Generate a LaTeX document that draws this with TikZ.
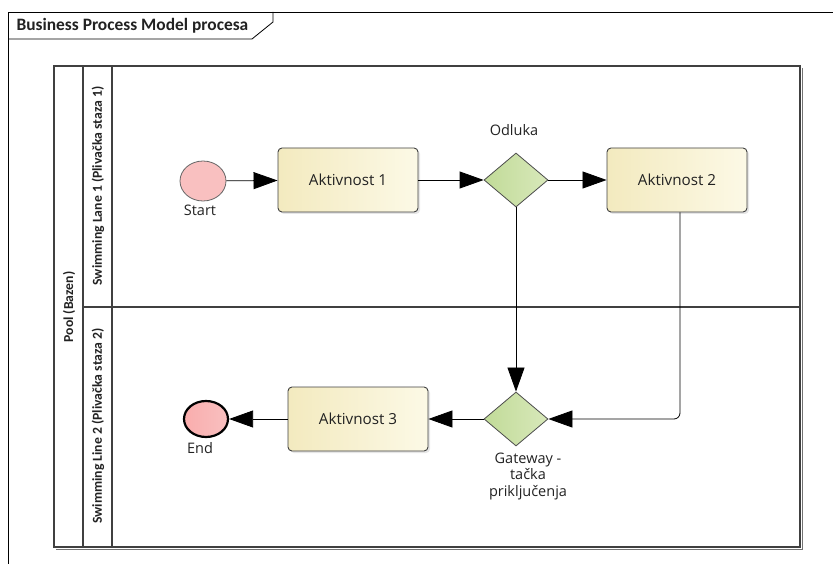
\documentclass[tikz,border=0pt]{standalone}
\usepackage{fontspec}
\setmainfont{Carlito}
\newfontfamily\shapefont{Open Sans}
\usetikzlibrary{shapes.geometric,arrows.meta,shadows}
\definecolor{actL}{HTML}{F3EABF}
\definecolor{actR}{HTML}{FCF9E6}
\definecolor{gwL}{HTML}{C1DB98}
\definecolor{gwR}{HTML}{D8E8BA}
\definecolor{evFill}{HTML}{F9C0C0}
\definecolor{txt}{HTML}{222222}
\newcommand\acttext[1]{\raisebox{-4pt}{#1}}
\tikzset{
  activity/.style={rectangle, rounded corners=4pt, draw=black!75, line width=0.9pt,
    left color=actL, right color=actR, minimum width=140pt, minimum height=64pt,
    font=\shapefont\fontsize{15.2}{17}\selectfont, text=txt,
    drop shadow={shadow xshift=2pt, shadow yshift=-2pt, opacity=0.2}},
  gateway/.style={diamond, draw=black!70, line width=0.8pt, left color=gwL, right color=gwR,
    minimum width=64pt, minimum height=54pt, inner sep=0pt, aspect=1.18},
  startev/.style={ellipse, draw=black!60, line width=0.8pt, fill=evFill,
    minimum width=46pt, minimum height=40pt, inner sep=0pt},
  endev/.style={ellipse, draw=black, line width=2.2pt, left color=evFill!90!red, right color=evFill,
    minimum width=44pt, minimum height=36pt, inner sep=0pt},
  lbl/.style={font=\shapefont\fontsize{14.5}{16.8}\selectfont, text=txt, align=center},
  flow/.style={draw=black, line width=0.8pt, -{Triangle[length=24pt, width=17pt]}},
  lanebox/.style={draw=black!75, line width=1.1pt},
  vlabel/.style={font=\bfseries\fontsize{13.7}{15}\selectfont, rotate=90, text=txt}
}
\begin{document}
\begin{tikzpicture}[x=1pt, y=-1pt]
  \useasboundingbox (0,0) rectangle (833,564);
  % diagram frame with name tab
  \draw[line width=0.9pt, black] (8,570) -- (8,12) -- (840,12);
  \draw[line width=0.8pt, black] (8,39) -- (252,39) -- (273,22) -- (273,12);
  \node[anchor=west, font=\bfseries\fontsize{17.4}{18}\selectfont, text=txt] (title) at (13,25.5) {Business Process Model procesa};
  % pool and lanes
  \draw[lanebox] (54,66) rectangle (800,547);
  \draw[lanebox] (83,66) -- (83,547);
  \draw[lanebox] (112,66) -- (112,547);
  \draw[lanebox] (83,307) -- (800,307);
  \draw[black!55, line width=0.8pt] (802,68) -- (802,549) -- (56,549);
  \node[vlabel] (pool) at (69,307) {Pool (Bazen)};
  \node[vlabel] (lane1) at (98,186) {Swimming Lane 1 (Plivačka staza 1)};
  \node[vlabel] (lane2) at (98,426) {Swimming Line 2 (Plivačka staza 2)};
  % flow elements
  \node[startev] (start) at (203,181) {};
  \node[lbl, anchor=north] (startlbl) at (200,201) {Start};
  \node[activity] (a1) at (348,180) {\acttext{Aktivnost 1}};
  \node[gateway] (odluka) at (516,180) {};
  \node[lbl] (odlukalbl) at (514,130) {Odluka};
  \node[activity] (a2) at (677,180) {\acttext{Aktivnost 2}};
  \node[gateway] (gw) at (516,419) {};
  \node[lbl, anchor=north] (gwlbl) at (528,449) {Gateway -\\tačka\\priključenja};
  \node[activity] (a3) at (358,419) {\acttext{Aktivnost 3}};
  \node[endev] (end) at (206,419) {};
  \node[lbl, anchor=north] (endlbl) at (200,439) {End};
  % sequence flows
  \coordinate (bend) at (680,419);
  \draw[flow] (start) -- (a1);
  \draw[flow] (a1) -- (odluka);
  \draw[flow] (odluka) -- (a2);
  \draw[flow] (odluka) -- (gw);
  \draw[flow, rounded corners=6pt] (a2.south -| bend) -- (bend) -- (gw.east);
  \draw[flow] (gw) -- (a3);
  \draw[flow] (a3) -- (end);
\end{tikzpicture}
\end{document}
